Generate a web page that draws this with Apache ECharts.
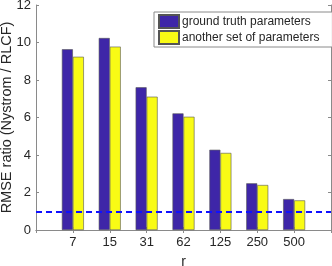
<!DOCTYPE html>
<html>
<head>
<meta charset="utf-8">
<script src="https://cdn.jsdelivr.net/npm/echarts@6/dist/echarts.min.js"></script>
<style>html,body{margin:0;padding:0;background:#fff;}#c{width:332px;height:266px;}</style>
</head>
<body>
<div id="c"></div>
<script>
const categories = ['7', '15', '31', '62', '125', '250', '500'];
const groundTruth = [9.64, 10.24, 7.61, 6.22, 4.28, 2.49, 1.65];
const anotherSet = [9.24, 9.78, 7.11, 6.04, 4.11, 2.40, 1.58];
const yTicks = [0, 2, 4, 6, 8, 10, 12];
const refLine = 1;

const axisData = [''].concat(categories, ['']);
const pad = v => [null].concat(v, [null]);
const font = 'Liberation Sans, Arial, sans-serif';
const axisColor = '#8a8a8a';
const textColor = '#262626';

const chart = echarts.init(document.getElementById('c'), null, {renderer: 'canvas'});
chart.setOption({
  animation: false,
  textStyle: {fontFamily: font},
  grid: {left: 36, right: 1, top: 5, bottom: 36, containLabel: false, outerBoundsMode: 'none'},
  legend: {
    orient: 'vertical',
    left: 154, top: 12,
    padding: [2, 13, 2, 4],
    itemWidth: 20, itemHeight: 13, itemGap: 1,
    backgroundColor: '#fff',
    borderColor: '#8a8a8a', borderWidth: 1,
    textStyle: {fontSize: 12, color: textColor, fontFamily: font, padding: [0, 0, 0, -2]},
    data: [{name: 'ground truth parameters', icon: 'rect'}, {name: 'another set of parameters', icon: 'rect'}]
  },
  xAxis: [{
    type: 'category', data: axisData, boundaryGap: false,
    name: 'r', nameLocation: 'middle', nameGap: 25, nameMoveOverlap: false,
    nameTextStyle: {fontSize: 14, color: textColor, fontFamily: font},
    axisLine: {lineStyle: {color: axisColor}},
    axisTick: {inside: true, length: 3, lineStyle: {color: axisColor}},
    axisLabel: {fontSize: 13, color: textColor, margin: 6, fontFamily: font, interval: 0},
    splitLine: {show: false}
  }, {
    type: 'category', data: axisData, boundaryGap: false, position: 'top',
    axisLine: {lineStyle: {color: axisColor}},
    axisTick: {inside: true, length: 3, lineStyle: {color: axisColor}},
    axisLabel: {show: false}
  }],
  yAxis: [{
    type: 'value', min: yTicks[0], max: yTicks[yTicks.length - 1], interval: 2,
    name: 'RMSE ratio (Nystrom / RLCF)', nameLocation: 'middle', nameGap: 22, nameMoveOverlap: false,
    nameTextStyle: {fontSize: 14.5, color: textColor, fontFamily: font},
    axisLine: {show: true, lineStyle: {color: axisColor}},
    axisTick: {show: true, inside: true, length: 3, lineStyle: {color: axisColor}},
    axisLabel: {fontSize: 13, color: textColor, margin: 5, fontFamily: font},
    splitLine: {show: false}
  }, {
    type: 'value', min: yTicks[0], max: yTicks[yTicks.length - 1], interval: 2, position: 'right',
    axisLine: {show: true, lineStyle: {color: axisColor}},
    axisTick: {show: true, inside: true, length: 3, lineStyle: {color: axisColor}},
    axisLabel: {show: false},
    splitLine: {show: false}
  }],
  series: [{
    name: 'ground truth parameters', type: 'bar', data: pad(groundTruth),
    barWidth: 11, barGap: '0%',
    itemStyle: {color: '#3E26A8', borderColor: '#555', borderWidth: 0.6},
    markLine: {
      silent: true, symbol: ['none', 'none'], label: {show: false},
      lineStyle: {color: '#1010ff', type: [6, 4], width: 2},
      data: [{yAxis: refLine}]
    }
  }, {
    name: 'another set of parameters', type: 'bar', data: pad(anotherSet),
    barWidth: 11, barGap: '0%',
    itemStyle: {color: '#F9FB15', borderColor: '#555', borderWidth: 0.6}
  }]
});
</script>
</body>
</html>
